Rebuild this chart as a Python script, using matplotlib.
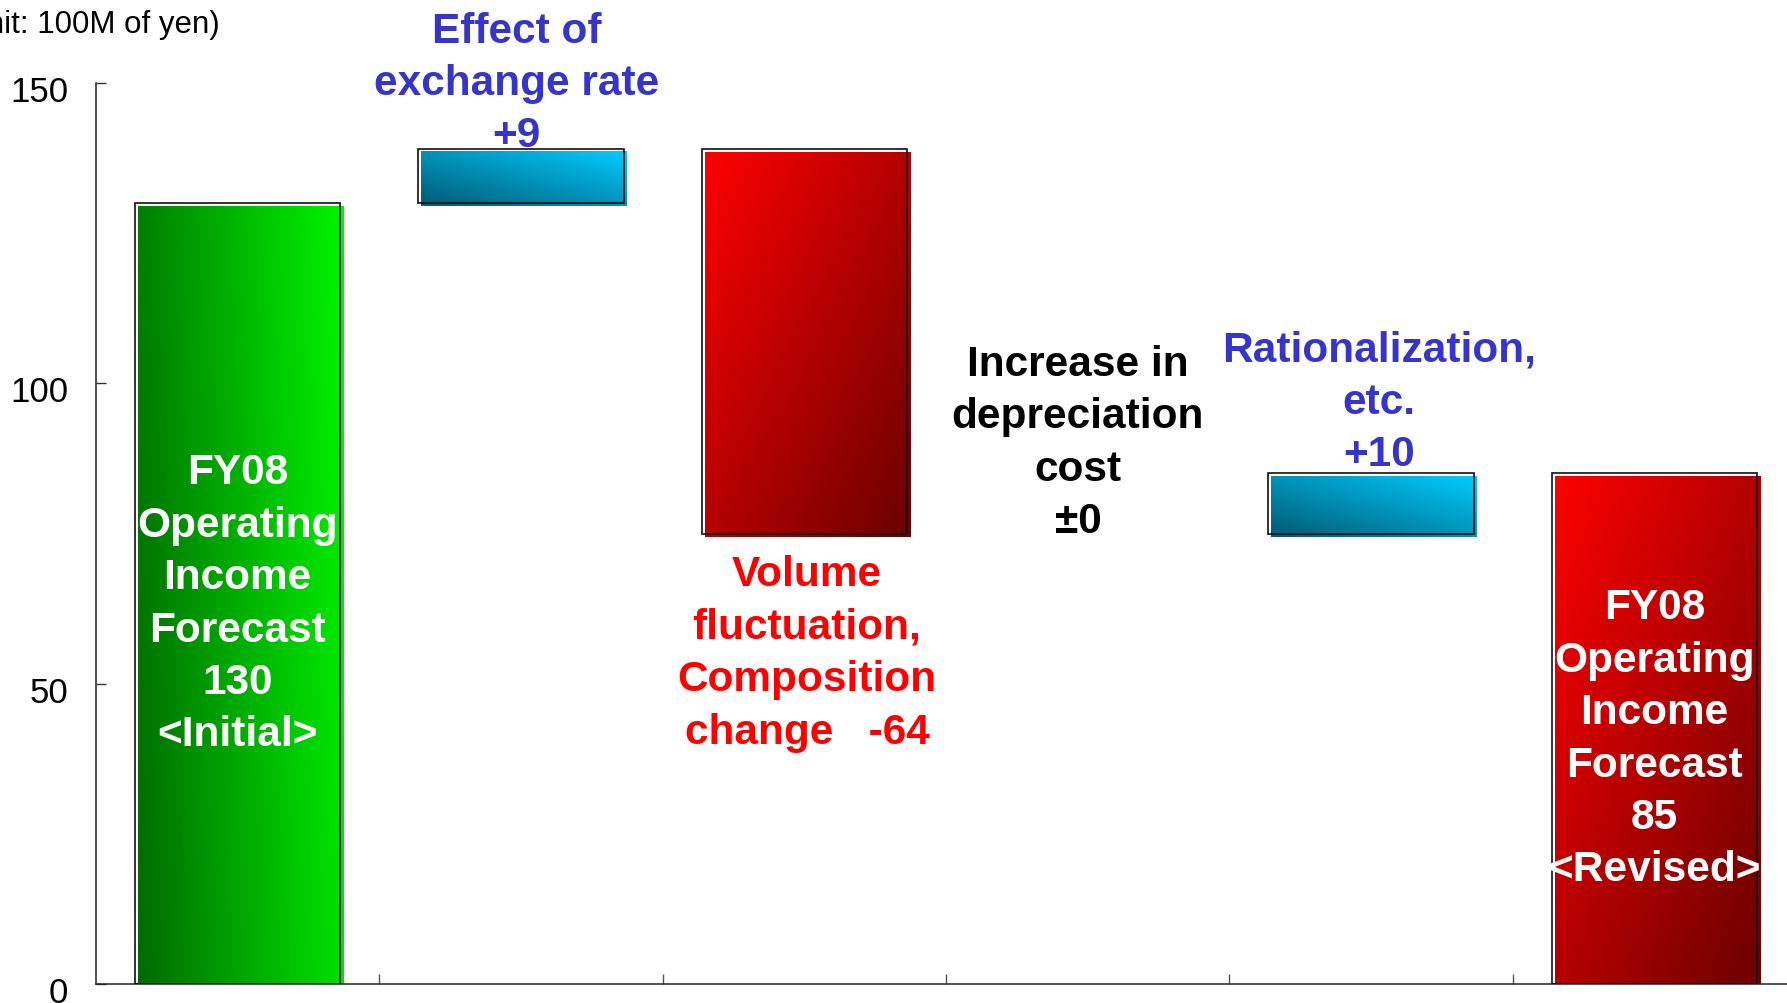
import numpy as np
import matplotlib
matplotlib.use("Agg")
import matplotlib.pyplot as plt
from matplotlib import transforms

# operating income bridge, unit: 100M of yen
initial = 130
revised = 85
step_names = ["exchange", "volume", "depreciation", "rationalization"]
step_deltas = [9, -64, 0, 10]

labels = [
    "FY08\nOperating\nIncome\nForecast\n130\n<Initial>",
    "Effect of\nexchange rate\n+9",
    "Volume\nfluctuation,\nComposition\nchange   -64",
    "Increase in\ndepreciation\ncost\n±0",
    "Rationalization,\netc.\n+10",
    "FY08\nOperating\nIncome\nForecast\n85\n<Revised>",
]

BLUE_TXT = "#3535CC"
RED_TXT = "#FF0000"

GREEN = ("#006A00", "#00F500")
RED = ("#FF0000", "#6A0000")
CYAN = ("#005A72", "#00CCFF")

plt.rcParams["font.family"] = ["Liberation Sans", "DejaVu Sans"]

fig = plt.figure(figsize=(17.87, 10.04), dpi=100)
ax = fig.add_axes([0.0537, 0.0189, 0.9513, 0.8974])
ax.set_xlim(-0.5, 5.5)
ax.set_ylim(0, 150)

# bottoms and heights of the waterfall
bottoms = [0]
heights = [initial]
running = initial
for d in step_deltas:
    bottoms.append(min(running, running + d))
    heights.append(abs(d))
    running += d
bottoms.append(0)
heights.append(revised)
x = np.arange(len(heights))
width = 0.725

# fill is shifted a few pixels right/down from the outline
x0p, y0p = ax.transData.transform((0, 0))
sx, sy = ax.transData.inverted().transform((x0p + 3, y0p - 3))


def gradient(c_from, c_to, mode, n=200):
    u = np.linspace(0, 1, n)[None, :]
    v = np.linspace(1, 0, n)[:, None]  # row 0 is the top
    if mode == "green":
        t = 0.85 * u + 0.15 * v
    elif mode == "red":
        t = 0.5 * u + 0.5 * (1 - v)
    else:
        t = 0.5 * u + 0.5 * v
    t = np.clip(t, 0, 1)[..., None]
    a = np.array(matplotlib.colors.to_rgb(c_from))
    b = np.array(matplotlib.colors.to_rgb(c_to))
    return a * (1 - t) + b * t


styles = ["green", "cyan", "red", None, "cyan", "red"]
for xi, b, h, st in zip(x, bottoms, heights, styles):
    if h == 0:
        continue
    if st == "green":
        img = gradient(*GREEN, "green")
    elif st == "red":
        img = gradient(*RED, "red")
    else:
        img = gradient(*CYAN, "cyan")
    ax.imshow(img, extent=(xi - width / 2 + sx, xi + width / 2 + sx, b + sy, b + h + sy),
              aspect="auto", interpolation="bilinear", zorder=2)
    ax.bar(xi, h, width, bottom=b, facecolor="none", edgecolor="#111111",
           linewidth=1.2, zorder=3)

ax.set_xlim(-0.5, 5.5)
ax.set_ylim(0, 150)

bold = dict(fontsize=30.5, fontweight="bold", ha="center", linespacing=1.40)

# labels inside the total bars
ax.annotate(labels[0], (x[0], bottoms[0] + heights[0] / 2), xytext=(0, -7), textcoords="offset points",
            color="white", va="center", zorder=4, **bold)
ax.annotate(labels[5], (x[5], bottoms[5] + heights[5] / 2), xytext=(0, -7), textcoords="offset points",
            color="white", va="center", zorder=4, **bold)

# step labels
ax.annotate(labels[1], (x[1], bottoms[1] + heights[1]), xytext=(-3, 2), textcoords="offset points",
            color=BLUE_TXT, va="baseline", **bold)
ax.annotate(labels[2], (x[2], bottoms[2]), xytext=(2, -15), textcoords="offset points",
            color=RED_TXT, va="top", **bold)
ax.annotate(labels[3], (x[3], bottoms[3]), xytext=(-7, 1), textcoords="offset points",
            color="black", va="baseline", **bold)
ax.annotate(labels[4], (x[4], bottoms[4] + heights[4]), xytext=(6, 6), textcoords="offset points",
            color=BLUE_TXT, va="baseline", **bold)

# axes styling
for side in ["top", "right"]:
    ax.spines[side].set_visible(False)
for side in ["left", "bottom"]:
    ax.spines[side].set_linewidth(1.1)
    ax.spines[side].set_color("#222222")

ax.set_yticks([0, 50, 100, 150])
ax.tick_params(axis="y", direction="in", length=7, width=1, pad=20, labelsize=25, color="#333333")
ax.set_xticks(np.arange(0.5, 5.0, 1.0))
ax.set_xticklabels([])
ax.tick_params(axis="x", direction="in", length=7, width=1, color="#555555")

shift = transforms.ScaledTranslation(0, -0.05, fig.dpi_scale_trans)
for lab in ax.get_yticklabels():
    lab.set_transform(lab.get_transform() + shift)

fig.text(220 / 1787, 1 - 33 / 1004, "(Unit: 100M of yen)", ha="right", va="baseline", fontsize=22.5)

fig.savefig("out.png", dpi=100)
